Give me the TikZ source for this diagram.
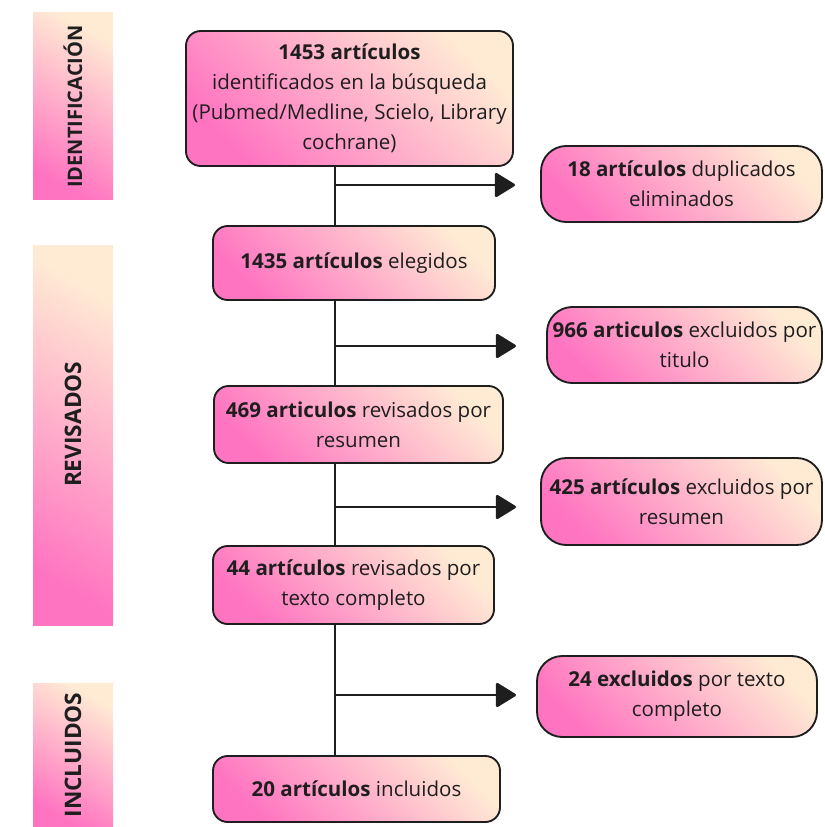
\documentclass[tikz,border=0pt]{standalone}
\usepackage{fontspec}
\setmainfont{Open Sans}
\usepackage{tikz}
\usetikzlibrary{arrows.meta}

\definecolor{hotpink}{RGB}{255,116,193}
\definecolor{peach}{RGB}{255,234,212}
\definecolor{ink}{RGB}{30,30,30}

\tikzset{
  pbox/.style={draw=ink, line width=1.4pt, rounded corners=11pt, inner sep=0pt,
    left color=hotpink, right color=peach, shading angle=135,
    align=center, text=ink, font=\fontsize{15.4}{22.5}\selectfont},
  rbox/.style={pbox, rounded corners=19pt},
  sidebar/.style={inner sep=0pt, left color=hotpink, right color=peach, shading angle=150,
    minimum width=60pt, text=ink, font=\fontsize{17}{20}\selectfont\bfseries},
  link/.style={draw=ink, line width=1.5pt},
  arr/.style={link, -{Triangle[round,length=10pt,width=12pt,line width=2pt,scale=1.6]}}
}

\begin{document}
\begin{tikzpicture}[x=0.75pt,y=0.75pt,yscale=-1,xscale=1]
\useasboundingbox (0,0) rectangle (824,827);

% side bars
\node [sidebar, minimum height=140.25pt, font=\fontsize{15}{18}\selectfont\bfseries] (ident) at (73,106.5) {\rotatebox{90}{IDENTIFICACIÓN}};
\node [sidebar, minimum height=285pt] (revis) at (73,435) {\rotatebox{90}{\hspace*{16pt}REVISADOS}};
\node [sidebar, minimum height=108pt] (inclu) at (73,755) {\rotatebox{90}{INCLUIDOS}};

% main column
\node [pbox, minimum width=245.25pt, minimum height=101.25pt] (idf) at (349.5,98.5)
  {\textbf{1453 artículos}\\identificados en la búsqueda\\(Pubmed/Medline, Scielo, Library\\cochrane)};
\node [pbox, minimum width=211.5pt, minimum height=55.5pt] (eleg) at (354,263)
  {\textbf{1435 artículos} elegidos};
\node [pbox, minimum width=216.75pt, minimum height=57.75pt] (resum) at (358.5,424.5)
  {\textbf{469 articulos} revisados por\\resumen};
\node [pbox, minimum width=210.75pt, minimum height=58.5pt] (texto) at (353.5,585)
  {\textbf{44 artículos} revisados por\\texto completo};
\node [pbox, minimum width=215.25pt, minimum height=49.5pt] (incl) at (356.5,789)
  {\textbf{20 artículos} incluidos};

% excluded column
\node [rbox, minimum width=210.75pt, minimum height=57pt] (dup) at (681.5,184)
  {\textbf{18 artículos} duplicados\\eliminados};
\node [rbox, minimum width=206.25pt, minimum height=57pt] (tit) at (684.5,345)
  {\textbf{966 articulos} excluidos por\\titulo};
\node [rbox, minimum width=210.75pt, minimum height=65.25pt] (excres) at (681.5,501.5)
  {\textbf{425 artículos} excluidos por\\resumen};
\node [rbox, minimum width=210pt, minimum height=60.75pt] (exctex) at (677,696.5)
  {\textbf{24 excluidos} por texto\\completo};

% trunk
\coordinate (trunk) at (335,0);
\draw [link] (idf.south -| trunk) -- (eleg.north -| trunk);
\draw [link] (eleg.south -| trunk) -- (resum.north -| trunk);
\draw [link] (resum.south -| trunk) -- (texto.north -| trunk);
\draw [link] (texto.south -| trunk) -- (incl.north -| trunk);

% branches
\coordinate (tipdup) at (515,185);
\coordinate (tiptit) at (516,346);
\coordinate (tipres) at (516,507);
\coordinate (tiptex) at (516,695);
\draw [arr] (trunk |- tipdup) -- (tipdup);
\draw [arr] (trunk |- tiptit) -- (tiptit);
\draw [arr] (trunk |- tipres) -- (tipres);
\draw [arr] (trunk |- tiptex) -- (tiptex);

\end{tikzpicture}
\end{document}
